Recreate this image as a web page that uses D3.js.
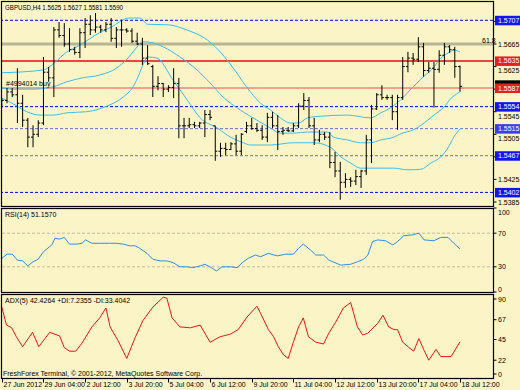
<!DOCTYPE html>
<html>
<head>
<meta charset="utf-8">
<script src="https://cdn.jsdelivr.net/npm/d3@7"></script>
<style>
  body { margin: 0; background: #fbf4c6; }
  svg { display: block; }
  text { font-family: "Liberation Sans", Arial, sans-serif; font-size: 7px; fill: #000; }
</style>
</head>
<body>
<svg width="520" height="390"></svg>
<script>
// bar index 0 = 27 Jun 20:00, one bar per 4 hours (weekends skipped)
const timeLabels = ['27 Jun 2012', '29 Jun 04:00', '2 Jul 12:00', '3 Jul 20:00', '5 Jul 04:00', '6 Jul 12:00',
  '9 Jul 20:00', '11 Jul 04:00', '12 Jul 12:00', '13 Jul 20:00', '17 Jul 04:00', '18 Jul 12:00'];
const timeLabelBars = [0, 8, 16, 24, 32, 40, 48, 56, 64, 72, 80, 88];

const highs = [1.5569, 1.5587, 1.5587, 1.5622, 1.5575, 1.5534, 1.5521, 1.5530, 1.5642, 1.5624,
  1.5695, 1.5704, 1.5702, 1.5693, 1.5660, 1.5693, 1.5711, 1.5716, 1.5720, 1.5699,
  1.5704, 1.5711, 1.5695, 1.5708, 1.5693, 1.5693, 1.5685, 1.5676, 1.5663, 1.5628,
  1.5608, 1.5596, 1.5592, 1.5622, 1.5605, 1.5534, 1.5534, 1.5527, 1.5527, 1.5548,
  1.5548, 1.5520, 1.5490, 1.5490, 1.5491, 1.5504, 1.5507, 1.5527, 1.5534, 1.5525,
  1.5521, 1.5543, 1.5545, 1.5539, 1.5518, 1.5518, 1.5525, 1.5560, 1.5578, 1.5571,
  1.5534, 1.5513, 1.5509, 1.5509, 1.5474, 1.5456, 1.5436, 1.5429, 1.5442, 1.5442,
  1.5504, 1.5557, 1.5578, 1.5592, 1.5575, 1.5575, 1.5575, 1.5642, 1.5651, 1.5649,
  1.5677, 1.5667, 1.5633, 1.5633, 1.5654, 1.5667, 1.5663, 1.5660, 1.5627];
const lows = [1.5552, 1.5560, 1.5571, 1.5525, 1.5518, 1.5482, 1.5482, 1.5500, 1.5521, 1.5598,
  1.5571, 1.5676, 1.5660, 1.5651, 1.5646, 1.5640, 1.5658, 1.5681, 1.5685, 1.5685,
  1.5686, 1.5669, 1.5658, 1.5660, 1.5685, 1.5667, 1.5663, 1.5628, 1.5628, 1.5571,
  1.5583, 1.5571, 1.5580, 1.5569, 1.5498, 1.5498, 1.5516, 1.5516, 1.5516, 1.5500,
  1.5530, 1.5458, 1.5465, 1.5468, 1.5477, 1.5468, 1.5468, 1.5507, 1.5513, 1.5509,
  1.5495, 1.5491, 1.5516, 1.5477, 1.5504, 1.5509, 1.5509, 1.5516, 1.5548, 1.5516,
  1.5486, 1.5491, 1.5495, 1.5445, 1.5429, 1.5389, 1.5410, 1.5412, 1.5415, 1.5410,
  1.5433, 1.5454, 1.5548, 1.5566, 1.5566, 1.5530, 1.5513, 1.5566, 1.5615, 1.5628,
  1.5633, 1.5607, 1.5614, 1.5552, 1.5614, 1.5628, 1.5649, 1.5605, 1.5581];
const opens = [1.5560, 1.5565, 1.5580, 1.5575, 1.5560, 1.5530, 1.5500, 1.5505, 1.5525, 1.5615,
  1.5605, 1.5690, 1.5680, 1.5665, 1.5655, 1.5650, 1.5685, 1.5700, 1.5690, 1.5695,
  1.5690, 1.5700, 1.5675, 1.5690, 1.5690, 1.5688, 1.5670, 1.5665, 1.5640, 1.5625,
  1.5590, 1.5595, 1.5585, 1.5588, 1.5595, 1.5520, 1.5520, 1.5522, 1.5520, 1.5525,
  1.5540, 1.5520, 1.5475, 1.5480, 1.5478, 1.5488, 1.5475, 1.5510, 1.5520, 1.5515,
  1.5512, 1.5500, 1.5535, 1.5520, 1.5510, 1.5512, 1.5511, 1.5520, 1.5555, 1.5565,
  1.5520, 1.5495, 1.5505, 1.5500, 1.5455, 1.5440, 1.5420, 1.5425, 1.5422, 1.5430,
  1.5440, 1.5495, 1.5550, 1.5575, 1.5570, 1.5570, 1.5545, 1.5570, 1.5625, 1.5640,
  1.5638, 1.5660, 1.5618, 1.5622, 1.5620, 1.5645, 1.5660, 1.5655, 1.5625];
const closes = [1.5565, 1.5580, 1.5575, 1.5560, 1.5530, 1.5500, 1.5505, 1.5525, 1.5615, 1.5605,
  1.5690, 1.5680, 1.5665, 1.5655, 1.5650, 1.5685, 1.5700, 1.5690, 1.5695, 1.5690,
  1.5700, 1.5675, 1.5690, 1.5690, 1.5688, 1.5670, 1.5665, 1.5640, 1.5630, 1.5590,
  1.5595, 1.5585, 1.5588, 1.5595, 1.5520, 1.5520, 1.5522, 1.5520, 1.5525, 1.5540,
  1.5535, 1.5475, 1.5480, 1.5478, 1.5488, 1.5475, 1.5505, 1.5520, 1.5515, 1.5512,
  1.5500, 1.5535, 1.5520, 1.5510, 1.5512, 1.5511, 1.5520, 1.5555, 1.5565, 1.5520,
  1.5495, 1.5505, 1.5500, 1.5455, 1.5440, 1.5420, 1.5425, 1.5422, 1.5430, 1.5440,
  1.5495, 1.5550, 1.5575, 1.5570, 1.5570, 1.5545, 1.5570, 1.5625, 1.5640, 1.5638,
  1.5660, 1.5618, 1.5622, 1.5620, 1.5645, 1.5660, 1.5655, 1.5625, 1.5590];

// band curves, [bar, price]
const bandUpper = [[0, 1.5614], [8, 1.5619], [10, 1.5631], [12.5, 1.5651], [15, 1.5663], [18, 1.5681],
  [21, 1.5695], [24.5, 1.5711], [26.5, 1.5711], [28, 1.5700], [32, 1.5699], [35.5, 1.5690],
  [39.5, 1.5672], [41, 1.5660], [44, 1.5628], [47, 1.5589], [49.7, 1.5560], [51.6, 1.5548],
  [53.5, 1.5534], [55.4, 1.5525], [57, 1.5525], [58.7, 1.5534], [61.2, 1.5537], [66.4, 1.5539],
  [70.8, 1.5534], [72.8, 1.5543], [74.7, 1.5552], [76.6, 1.5566], [79, 1.5589], [81, 1.5607],
  [83, 1.5624], [84.3, 1.5640], [85.7, 1.5649], [86.8, 1.5654], [88, 1.5651]];
const bandMiddle = [[0, 1.5587], [2, 1.5585], [6, 1.5585], [9.8, 1.5589], [12.5, 1.5598], [15.5, 1.5605],
  [18.8, 1.5610], [22, 1.5622], [24.6, 1.5644], [26, 1.5660], [27.1, 1.5669], [29, 1.5667],
  [31, 1.5660], [34.2, 1.5642], [37.5, 1.5619], [40, 1.5596], [42.5, 1.5571], [45.8, 1.5548],
  [49, 1.5530], [51.6, 1.5516], [53.5, 1.5507], [56, 1.5507], [58.7, 1.5509], [62.6, 1.5509],
  [63.7, 1.5500], [66.4, 1.5495], [68.9, 1.5490], [70.8, 1.5490], [72.8, 1.5495], [75.3, 1.5500],
  [76.6, 1.5506], [79.1, 1.5513], [81.1, 1.5525], [83, 1.5539], [84.9, 1.5553], [86.3, 1.5569],
  [87.6, 1.5578], [88.2, 1.5582]];
const bandLower = [[0, 1.5569], [2, 1.5560], [4.8, 1.5545], [7.3, 1.5539], [9.8, 1.5539], [12.5, 1.5543],
  [16.3, 1.5545], [20.2, 1.5555], [23.3, 1.5571], [25.2, 1.5589], [26.5, 1.5614], [27.1, 1.5628],
  [28.1, 1.5642], [29.8, 1.5640], [32.9, 1.5601], [35.6, 1.5566], [38.1, 1.5534], [41.4, 1.5516],
  [43.9, 1.5500], [46.4, 1.5490], [47.7, 1.5486], [51.6, 1.5486], [56, 1.5490], [59.9, 1.5490],
  [63.1, 1.5482], [65.1, 1.5465], [67, 1.5454], [68.9, 1.5445], [71.4, 1.5445], [75.3, 1.5445],
  [78, 1.5442], [80.5, 1.5443], [82.4, 1.5454], [84.3, 1.5465], [85.7, 1.5481], [86.8, 1.5500],
  [88.2, 1.5516]];

const levelPrices = [1.5707, 1.5665, 1.5635, 1.5587, 1.5554, 1.5515, 1.5467, 1.5402];
const priceTicks = [1.5385, 1.5425, 1.5465, 1.5505, 1.5545, 1.5585, 1.5625, 1.5665, 1.5705];

const rsiPoints = [[0, 40], [1, 45], [2, 45], [3, 38], [4, 37], [5, 31], [6, 36], [7, 39], [8, 48],
  [9.6, 56], [10.2, 64], [11.1, 63], [12, 65], [13, 57], [14.4, 57], [15.4, 58], [16.1, 62],
  [17.3, 58], [18.8, 58], [20.7, 58], [22, 58], [23.3, 57], [24.6, 55], [25.6, 55], [26.5, 52],
  [27.9, 46], [29, 39], [30.4, 37], [31.7, 37], [32.9, 35], [34.2, 30], [35.6, 30], [36.7, 29],
  [38.1, 31], [39, 33], [40, 30], [41.2, 25], [42.3, 30], [43.9, 30], [45.2, 29], [46.2, 35],
  [47.3, 40], [48.7, 44], [49.7, 42], [51.2, 46], [52.9, 43], [54.5, 45], [56, 45], [57, 52],
  [57.9, 57], [59.3, 50], [60.3, 44], [61.8, 44], [62.8, 38], [65.1, 32], [67, 33], [68.3, 36],
  [69.5, 39], [70.3, 44], [71.2, 60], [72.2, 62], [73.7, 61], [75.1, 56], [76, 60], [77.2, 67],
  [78.9, 68], [80.1, 70], [81.1, 62], [83, 61], [84.3, 65], [85.7, 65], [86.8, 58], [88, 51.157]];
const rsiTicks = [100, 70, 30, 0];

const adxPoints = [[0, 81], [0.9, 61], [1.9, 58], [2.8, 48], [4, 37], [5.9, 53], [7.1, 37], [9.2, 53],
  [11.1, 49], [12, 36], [13, 32], [14.2, 32], [15.4, 41], [17.3, 59], [18.8, 69], [20, 80],
  [20.8, 59], [22.3, 44], [24, 24], [25.6, 47], [27.1, 66], [29, 81], [31, 92], [31.7, 91],
  [32.7, 69], [34.2, 59], [36.2, 58], [38.1, 61], [40, 42], [41.9, 48], [43.9, 51], [45.4, 56],
  [47.1, 70], [49, 82], [49.7, 74], [51.2, 56], [52.2, 48], [53.1, 37], [54.1, 28], [55, 24],
  [56, 42], [57, 59], [57.9, 69], [58.9, 48], [60.3, 42], [61.8, 40], [62.8, 52], [64.1, 64],
  [65.6, 80], [67, 86], [68.3, 59], [69.3, 50], [70.3, 52], [72.2, 63], [73.2, 72], [74.3, 59],
  [75.3, 56], [76, 56], [77, 42], [78.2, 36], [79.1, 32], [80.1, 46], [81.1, 33], [82, 22],
  [83.4, 34], [84.3, 26], [86.3, 26], [88, 42.4264]];
const adxTicks = [90, 67, 45, 22, 0];

(function() {
	const svg = d3.select('svg');
	const bg = '#fbf4c6';

	svg.append('rect').attr('width', 520).attr('height', 390).attr('fill', bg);

	const right = 493.5;
	const mainTop = 1.5, mainBottom = 206.5;
	const rsiTop = 208.5, rsiBottom = 292.5;
	const adxTop = 294.5, adxBottom = 378.5;

	const x = d3.scaleLinear().domain([0, 88]).range([1.8, 460]);
	const y = d3.scaleLinear().domain([1.5385, 1.5665]).range([202, 44]);
	const yRsi = d3.scaleLinear().domain([0, 100]).range([292, 208]);
	const yAdx = d3.scaleLinear().domain([0, 90]).range([380, 299]);

	const defs = svg.append('defs');
	const clip = (id, top, bottom) => defs.append('clipPath').attr('id', id)
		.append('rect').attr('x', 2).attr('y', top).attr('width', right - 2).attr('height', bottom - top);
	clip('cMain', mainTop, mainBottom);
	clip('cRsi', rsiTop, rsiBottom);
	clip('cAdx', adxTop, adxBottom);

	// ---- main window
	const main = svg.append('g').attr('clip-path', 'url(#cMain)');

	const levelStyle = {
		1.5707: { c: '#0000ff', w: 1, d: '3,2' },
		1.5665: { c: '#b7b595', w: 3, d: null },
		1.5635: { c: '#e01010', w: 1.5, d: null },
		1.5587: { c: '#f2a08e', w: 2, d: null },
		1.5554: { c: '#0000ff', w: 1, d: '3,2' },
		1.5515: { c: '#6a6ad8', w: 1, d: '3,2' },
		1.5467: { c: '#6a6ad8', w: 1, d: '3,2' },
		1.5402: { c: '#0000ff', w: 1, d: '3,2' }
	};
	levelPrices.forEach(p => {
		const s = levelStyle[p];
		main.append('line')
			.attr('x1', 0).attr('x2', right)
			.attr('y1', y(p)).attr('y2', y(p))
			.attr('stroke', s.c).attr('stroke-width', s.w)
			.attr('stroke-dasharray', s.d);
	});

	const line = d3.line().x(d => x(d[0])).y(d => y(d[1])).curve(d3.curveMonotoneX);
	[bandUpper, bandMiddle, bandLower].forEach(b => {
		main.append('path').attr('d', line(b))
			.attr('fill', 'none').attr('stroke', '#38bff0').attr('stroke-width', 1);
	});

	const bars = main.append('g').attr('stroke', '#000').attr('stroke-width', 1);
	highs.forEach((h, i) => {
		const bx = x(i);
		bars.append('line').attr('x1', bx).attr('x2', bx).attr('y1', y(h)).attr('y2', y(lows[i]));
		bars.append('line').attr('x1', bx - 2).attr('x2', bx).attr('y1', y(opens[i])).attr('y2', y(opens[i]));
		bars.append('line').attr('x1', bx).attr('x2', bx + 2).attr('y1', y(closes[i])).attr('y2', y(closes[i]));
	});

	svg.append('text').attr('x', 5).attr('y', 10)
		.attr('textLength', 118).attr('lengthAdjust', 'spacingAndGlyphs')
		.text('GBPUSD,H4 1.5625 1.5627 1.5581 1.5590');
	svg.append('text').attr('x', 6).attr('y', 86).text('#4994014 buy');
	svg.append('text').attr('x', 482).attr('y', 43).attr('fill', '#333').text('61.8');

	// price scale
	const boxColor = {
		1.5707: '#1414f0', 1.5635: '#e8201c', 1.5587: '#e8201c',
		1.5554: '#1414f0', 1.5515: '#3c3cf0', 1.5467: '#1414f0', 1.5402: '#1414f0'
	};
	const boxed = levelPrices.filter(p => boxColor[p]);
	const axisG = svg.append('g');
	priceTicks.forEach(p => {
		axisG.append('line').attr('x1', right).attr('x2', right + 3)
			.attr('y1', y(p)).attr('y2', y(p)).attr('stroke', '#000');
		// labels under a level box: hidden if fully covered, pushed below if partly
		const gap = d3.min(boxed, b => Math.abs(y(b) - y(p)));
		if (gap < 3) return;
		const shift = gap < 8 ? 9.5 - gap : 0;
		axisG.append('text').attr('x', 498).attr('y', y(p) + 2.5 + shift).text(p.toFixed(4));
	});
	// bid box partly hidden under the order box
	axisG.append('rect').attr('x', 495).attr('y', y(1.5590) - 6).attr('width', 25).attr('height', 10).attr('fill', '#000');
	boxed.forEach(p => {
		axisG.append('rect').attr('x', 495).attr('y', y(p) - 4.5)
			.attr('width', 25).attr('height', 9.5).attr('fill', boxColor[p]);
		axisG.append('text').attr('x', 498).attr('y', y(p) + 2.5)
			.style('fill', '#fff').text(p.toFixed(4));
	});

	// ---- RSI window
	const rsiG = svg.append('g').attr('clip-path', 'url(#cRsi)');
	[70, 30].forEach(v => {
		rsiG.append('line').attr('x1', 2).attr('x2', right)
			.attr('y1', yRsi(v)).attr('y2', yRsi(v))
			.attr('stroke', '#c4bc9c').attr('stroke-dasharray', '3,2');
	});
	rsiG.append('path')
		.attr('d', d3.line().x(d => x(d[0])).y(d => yRsi(d[1]))(rsiPoints))
		.attr('fill', 'none').attr('stroke', '#2a8ff0').attr('stroke-width', 1);
	svg.append('text').attr('x', 5).attr('y', 217).text('RSI(14) 51.1570');
	rsiTicks.forEach(v => {
		const ty = Math.min(Math.max(yRsi(v), 212), 289);
		axisG.append('line').attr('x1', right).attr('x2', right + 3)
			.attr('y1', yRsi(v)).attr('y2', yRsi(v)).attr('stroke', '#000');
		axisG.append('text').attr('x', 498).attr('y', ty + 2.5).text(v);
	});

	// ---- ADX window
	const adxG = svg.append('g').attr('clip-path', 'url(#cAdx)');
	adxG.append('path')
		.attr('d', d3.line().x(d => x(d[0])).y(d => yAdx(d[1]))(adxPoints))
		.attr('fill', 'none').attr('stroke', '#f01414').attr('stroke-width', 1);
	svg.append('text').attr('x', 5).attr('y', 303).text('ADX(5) 42.4264 +DI:7.2355 -DI:33.4042');
	svg.append('text').attr('x', 3).attr('y', 376).text('FreshForex Terminal, \u00a9 2001-2012, MetaQuotes Software Corp.');
	adxTicks.forEach(v => {
		const ty = Math.min(yAdx(v), 374);
		axisG.append('line').attr('x1', right).attr('x2', right + 3)
			.attr('y1', ty).attr('y2', ty).attr('stroke', '#000');
		axisG.append('text').attr('x', 498).attr('y', ty + 2.5).text(v);
	});

	// ---- frames
	[[mainTop, mainBottom], [rsiTop, rsiBottom], [adxTop, adxBottom]].forEach(([t, b]) => {
		svg.append('rect').attr('x', 1.5).attr('y', t)
			.attr('width', right - 1.5).attr('height', b - t)
			.attr('fill', 'none').attr('stroke', '#000').attr('stroke-width', 1.2);
	});

	// ---- time axis
	timeLabelBars.forEach((b, k) => {
		const tx = Math.round(x(b)) + 0.5;
		svg.append('line').attr('x1', tx).attr('x2', tx).attr('y1', adxBottom).attr('y2', adxBottom + 4)
			.attr('stroke', '#000');
		svg.append('text').attr('x', tx + 1).attr('y', 387).text(timeLabels[k]);
	});
})();
</script>
</body>
</html>
